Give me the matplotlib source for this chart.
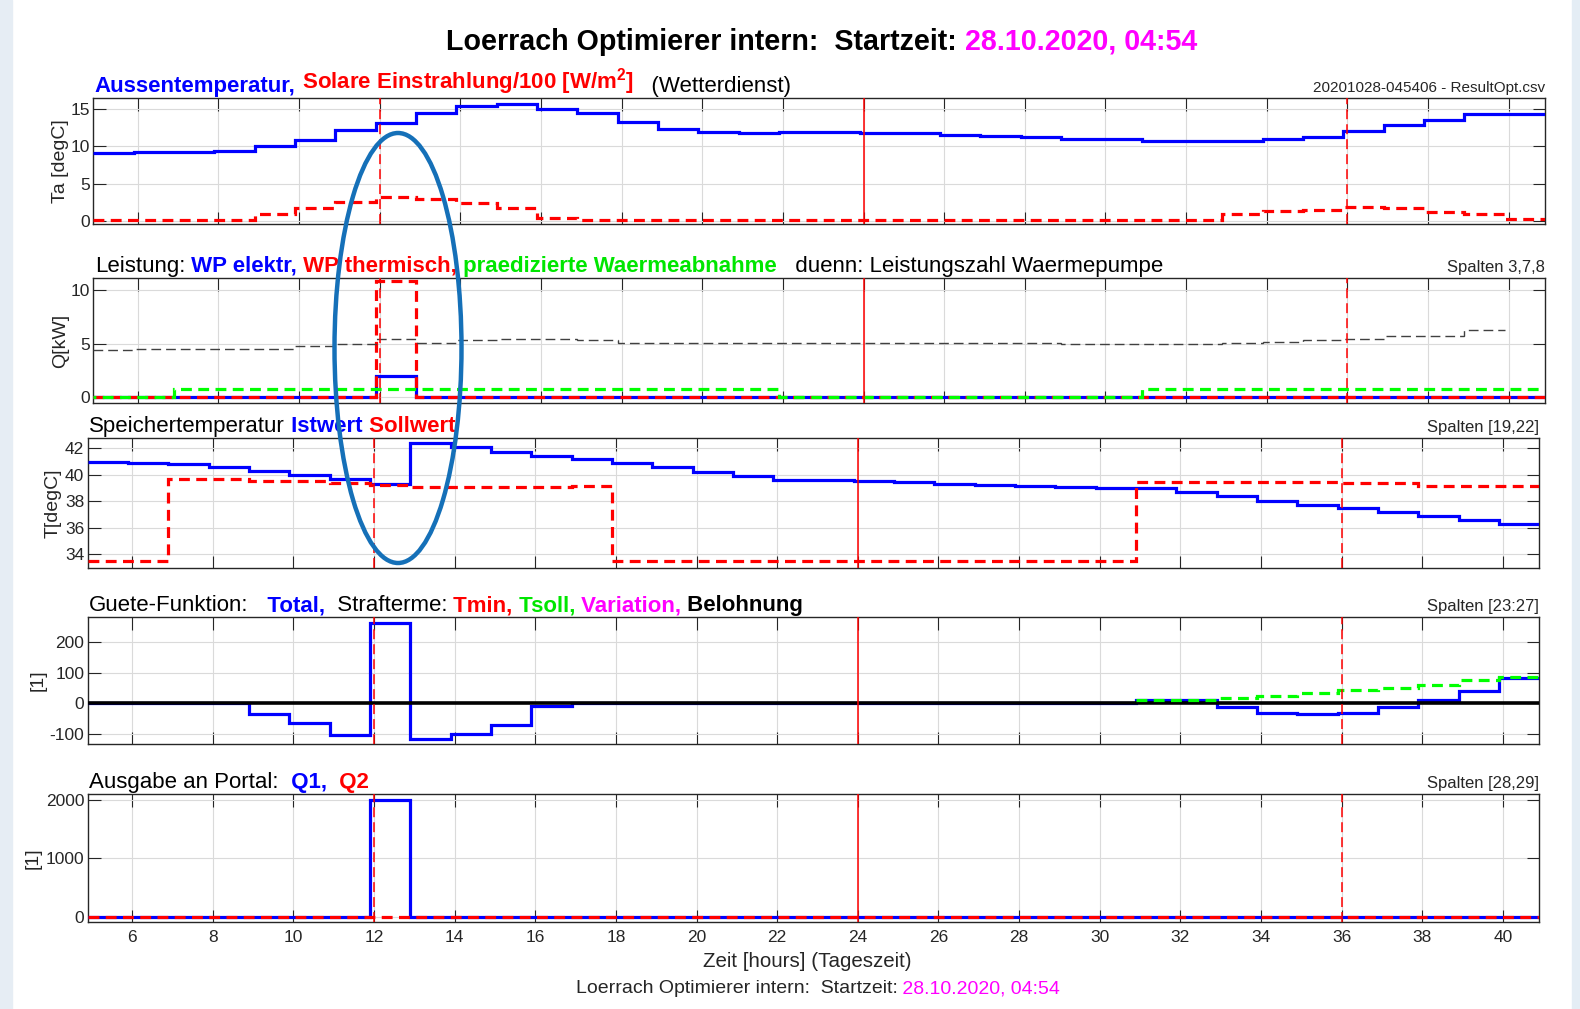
import matplotlib
matplotlib.use("Agg")
import matplotlib.pyplot as plt
from matplotlib.patches import Ellipse, Rectangle
from matplotlib.text import Annotation
from matplotlib.transforms import offset_copy

plt.rcParams["font.family"] = ["Liberation Sans", "DejaVu Sans"]
plt.rcParams["mathtext.fontset"] = "custom"
plt.rcParams["mathtext.rm"] = "Liberation Sans"
plt.rcParams["mathtext.it"] = "Liberation Sans:italic"
plt.rcParams["mathtext.bf"] = "Liberation Sans:bold"
plt.rcParams["axes.unicode_minus"] = False

# ---------------- data ----------------
hour_edges = [4.9, 5.9, 6.9, 7.9, 8.9, 9.9, 10.9, 11.9, 12.9, 13.9, 14.9, 15.9,
              16.9, 17.9, 18.9, 19.9, 20.9, 21.9, 22.9, 23.9, 24.9, 25.9, 26.9,
              27.9, 28.9, 29.9, 30.9, 31.9, 32.9, 33.9, 34.9, 35.9, 36.9, 37.9,
              38.9, 39.9, 40.9]
x_ticks = [6, 8, 10, 12, 14, 16, 18, 20, 22, 24, 26, 28, 30, 32, 34, 36, 38, 40]
noon_hours = [12, 36]
midnight_hours = [24]

aussentemperatur = [9.1, 9.2, 9.2, 9.4, 10.1, 10.9, 12.2, 13.2, 14.5, 15.4, 15.7, 15.1,
                    14.5, 13.3, 12.3, 11.95, 11.8, 11.95, 11.95, 11.8, 11.8, 11.6, 11.45, 11.3,
                    11.05, 10.95, 10.8, 10.8, 10.8, 11.05, 11.3, 12.1, 12.9, 13.6, 14.4, 14.4]
solar_100 = [0.1, 0.1, 0.1, 0.1, 0.85, 1.65, 2.5, 3.2, 2.9, 2.4, 1.65, 0.4,
             0.1, 0.1, 0.1, 0.1, 0.1, 0.1, 0.1, 0.1, 0.1, 0.1, 0.1, 0.1,
             0.1, 0.1, 0.1, 0.1, 0.85, 1.35, 1.45, 1.9, 1.75, 1.2, 0.85, 0.2]

wp_elektr = [0, 0, 0, 0, 0, 0, 0, 2.0, 0, 0, 0, 0,
             0, 0, 0, 0, 0, 0, 0, 0, 0, 0, 0, 0,
             0, 0, 0, 0, 0, 0, 0, 0, 0, 0, 0, 0]
wp_thermisch = [0, 0, 0, 0, 0, 0, 0, 10.8, 0, 0, 0, 0,
                0, 0, 0, 0, 0, 0, 0, 0, 0, 0, 0, 0,
                0, 0, 0, 0, 0, 0, 0, 0, 0, 0, 0, 0]
waermeabnahme = [0, 0, 0.8, 0.8, 0.8, 0.8, 0.8, 0.8, 0.8, 0.8, 0.8, 0.8,
                 0.8, 0.8, 0.8, 0.8, 0.8, 0, 0, 0, 0, 0, 0, 0,
                 0, 0, 0.8, 0.8, 0.8, 0.8, 0.8, 0.8, 0.8, 0.8, 0.8, 0.8]
leistungszahl = [4.4, 4.5, 4.5, 4.55, 4.55, 4.78, 5.0, 5.4, 5.1, 5.35, 5.47, 5.4,
                 5.35, 5.03, 5.03, 5.03, 5.03, 5.03, 5.03, 5.03, 5.03, 5.03, 5.03, 5.03,
                 4.97, 4.97, 4.97, 4.97, 5.03, 5.19, 5.34, 5.43, 5.75, 5.75, 6.27]

istwert = [41.0, 40.92, 40.85, 40.57, 40.3, 39.95, 39.65, 39.3, 42.4, 42.07, 41.75, 41.45,
           41.2, 40.87, 40.55, 40.2, 39.9, 39.6, 39.6, 39.5, 39.42, 39.3, 39.25, 39.16,
           39.1, 39.0, 38.97, 38.7, 38.4, 38.05, 37.76, 37.48, 37.18, 36.88, 36.6, 36.3]
sollwert = [33.5, 33.5, 39.7, 39.7, 39.55, 39.55, 39.4, 39.25, 39.05, 39.05, 39.05, 39.05,
            39.15, 33.5, 33.5, 33.5, 33.5, 33.5, 33.5, 33.5, 33.5, 33.5, 33.5, 33.5,
            33.5, 33.5, 39.45, 39.45, 39.45, 39.45, 39.45, 39.38, 39.38, 39.17, 39.17, 39.17]

guete_total = [0, 0, 0, 0, -35, -65, -103, 262, -118, -100, -70, -9,
               0, 0, 0, 0, 0, 0, 0, 0, 0, 0, 0, 0,
               0, 0, 9, 12, -13, -32, -35, -32, -13, 11, 41, 82]
strafe_tsoll_start = 30.9
strafe_tsoll = [9, 10, 17, 24, 33, 43, 50, 60, 74, 87]
belohnung = [0, 0, 0, 0, 0, 0, 0, 0, 0, 0, 0, 0,
             0, 0, 0, 0, 0, 0, 0, 0, 0, 0, 0, 0,
             0, 0, 0, 0, 0, 0, 0, 0, 0, 0, 0, 0]

portal_q1 = [0, 0, 0, 0, 0, 0, 0, 2000, 0, 0, 0, 0,
             0, 0, 0, 0, 0, 0, 0, 0, 0, 0, 0, 0,
             0, 0, 0, 0, 0, 0, 0, 0, 0, 0, 0, 0]
portal_q2 = [0, 0, 0, 0, 0, 0, 0, 0, 0, 0, 0, 0,
             0, 0, 0, 0, 0, 0, 0, 0, 0, 0, 0, 0,
             0, 0, 0, 0, 0, 0, 0, 0, 0, 0, 0, 0]

# ---------------- style ----------------
BLUE, RED, GREEN, MAG, BLK = "#0000FF", "#FF0000", "#00FF00", "#FF00FF", "#000000"
GREEN_TXT = "#00E600"
AXC = "#262626"
W, H = 1580, 1009
DASH = (0, (3.4, 2.0))
LW = 2.3

fig = plt.figure(figsize=(W / 100, H / 100), dpi=100)
fig.patch.set_facecolor("white")

# screenshot border strips
fig.add_artist(Rectangle((0, 0), 12 / W, 1, transform=fig.transFigure,
                         color="#e6edf4", zorder=-5))
fig.add_artist(Rectangle((1572 / W, 0), 8 / W, 1, transform=fig.transFigure,
                         color="#e4edf5", zorder=-5))


def add_axes_px(left, top, right, bottom):
    return fig.add_axes([left / W, 1 - bottom / H, (right - left) / W, (bottom - top) / H])


def style(ax, ylim, yticks, xlabels=False):
    ax.set_xlim(hour_edges[0], hour_edges[-1])
    ax.set_ylim(*ylim)
    ax.set_xticks(x_ticks)
    ax.set_yticks(yticks)
    ax.grid(True, color="#dadada", lw=0.8)
    ax.set_axisbelow(True)
    ax.tick_params(direction="in", length=9, width=0.8, color=AXC, labelcolor=AXC,
                   labelsize=12.5, top=True, right=True)
    ax.tick_params(axis="y", pad=2.5)
    ax.tick_params(axis="x", pad=5.5, labelbottom=xlabels)
    for s in ax.spines.values():
        s.set_color(AXC)
        s.set_linewidth(1.0)
    for h in noon_hours:
        ax.axvline(h, color=RED, lw=1.1, ls=(0, (6.5, 3.3)), zorder=6)
    for h in midnight_hours:
        ax.axvline(h, color=RED, lw=1.1, zorder=6)


def rich_text(ax, parts, size):
    tr = offset_copy(ax.transAxes, fig=fig, x=1.5, y=6, units="dots")
    s, c, w = parts[0]
    t = ax.text(0, 1, s, color=c, fontweight=w, fontsize=size, transform=tr,
                ha="left", va="baseline")
    for s, c, w in parts[1:]:
        t = ax.annotate(s, xy=(1, 0), xycoords=t, color=c, fontweight=w,
                        fontsize=size, ha="left", va="bottom")
    return t


def fig_rich_text(x, y, parts, size):
    s, c, w = parts[0]
    t = fig.text(x, y, s, color=c, fontweight=w, fontsize=size, ha="left", va="baseline")
    for s, c, w in parts[1:]:
        a = Annotation(s, xy=(1, 0), xycoords=t, color=c, fontweight=w,
                       fontsize=size, ha="left", va="bottom")
        fig.add_artist(a)
        t = a
    return t


def right_note(ax, s, size):
    tr = offset_copy(ax.transAxes, fig=fig, x=0, y=6, units="dots")
    ax.text(1, 1, s, ha="right", va="baseline", fontsize=size, color=AXC, transform=tr)


def ylabel(ax, s, xpx, axleft, axwidth):
    ax.set_ylabel(s, fontsize=14, color=AXC, va="center")
    ax.yaxis.set_label_coords((xpx - axleft) / axwidth, 0.5)


TSIZE = 16.0

# ---------- Panel 1 ----------
ax1 = add_axes_px(93.4, 98.3, 1545.0, 224.3)
ax1.stairs(aussentemperatur, hour_edges, baseline=None, color=BLUE, lw=LW, zorder=3)
ax1.stairs(solar_100, hour_edges, baseline=None, color=RED, lw=LW, ls=DASH, zorder=4)
style(ax1, (-0.5, 16.5), [0, 5, 10, 15])
ylabel(ax1, "Ta [degC]", 60.2, 93.4, 1451.6)
rich_text(ax1, [("Aussentemperatur,", BLUE, "bold"),
                (" Solare Einstrahlung/100 [W/m$^{\\mathbf{2}}$]", RED, "bold"),
                ("   (Wetterdienst)", BLK, "normal")], TSIZE)
right_note(ax1, "20201028-045406 - ResultOpt.csv", 11)

# ---------- Panel 2 ----------
ax2 = add_axes_px(93.4, 277.7, 1545.0, 403.3)
ax2.stairs(wp_elektr, hour_edges, baseline=None, color=BLUE, lw=LW, zorder=3)
ax2.stairs(wp_thermisch, hour_edges, baseline=None, color=RED, lw=LW, ls=DASH, zorder=4)
ax2.stairs(waermeabnahme, hour_edges, baseline=None, color=GREEN, lw=LW,
           ls=(2.5, (3.4, 2.0)), zorder=5)
ax2.stairs(leistungszahl, hour_edges[:len(leistungszahl) + 1], baseline=None,
           color="#404040", lw=1.0, ls=(0, (7, 3.6)), zorder=5)
style(ax2, (-0.55, 11.15), [0, 5, 10])
ylabel(ax2, "Q[kW]", 60.2, 93.4, 1451.6)
rich_text(ax2, [("Leistung:", BLK, "normal"), (" WP elektr,", BLUE, "bold"),
                (" WP thermisch,", RED, "bold"),
                (" praedizierte Waermeabnahme", GREEN_TXT, "bold"),
                ("   duenn: Leistungszahl Waermepumpe", BLK, "normal")], TSIZE)
right_note(ax2, "Spalten 3,7,8", 12)

# ---------- Panel 3 ----------
ax3 = add_axes_px(87.8, 438.3, 1539.2, 567.7)
ax3.stairs(istwert, hour_edges, baseline=None, color=BLUE, lw=LW, zorder=3)
ax3.stairs(sollwert, hour_edges, baseline=None, color=RED, lw=LW, ls=DASH, zorder=4)
style(ax3, (33.0, 42.75), [34, 36, 38, 40, 42])
ylabel(ax3, "T[degC]", 53.6, 87.8, 1451.4)
rich_text(ax3, [("Speichertemperatur", BLK, "normal"), (" Istwert", BLUE, "bold"),
                (" Sollwert", RED, "bold")], TSIZE)
right_note(ax3, "Spalten [19,22]", 12)

# ---------- Panel 4 ----------
ax4 = add_axes_px(87.8, 617.3, 1539.2, 744.0)
ax4.stairs(guete_total, hour_edges, baseline=None, color=BLUE, lw=LW, zorder=3)
ax4.stairs(belohnung, hour_edges, baseline=None, color=BLK, lw=2.6, zorder=3.5)
i0 = hour_edges.index(strafe_tsoll_start)
ax4.stairs(strafe_tsoll, hour_edges[i0:i0 + len(strafe_tsoll) + 1], baseline=None,
           color=GREEN, lw=LW, ls=DASH, zorder=4)
style(ax4, (-133, 280), [-100, 0, 100, 200])
ylabel(ax4, "[1]", 38.3, 87.8, 1451.4)
rich_text(ax4, [("Guete-Funktion:", BLK, "normal"), ("   Total,", BLUE, "bold"),
                ("  Strafterme:", BLK, "normal"), (" Tmin,", RED, "bold"),
                (" Tsoll,", GREEN_TXT, "bold"), (" Variation,", MAG, "bold"),
                (" Belohnung", BLK, "bold")], TSIZE)
right_note(ax4, "Spalten [23:27]", 12)

# ---------- Panel 5 ----------
ax5 = add_axes_px(87.8, 794.3, 1539.2, 922.3)
ax5.stairs(portal_q1, hour_edges, baseline=None, color=BLUE, lw=LW, zorder=3)
ax5.stairs(portal_q2, hour_edges, baseline=None, color=RED, lw=LW, ls=DASH, zorder=4)
style(ax5, (-96, 2098), [0, 1000, 2000], xlabels=True)
ylabel(ax5, "[1]", 33.2, 87.8, 1451.4)
rich_text(ax5, [("Ausgabe an Portal:", BLK, "normal"), ("  Q1,", BLUE, "bold"),
                ("  Q2", RED, "bold")], TSIZE)
right_note(ax5, "Spalten [28,29]", 12)
ax5.set_xlabel("Zeit [hours] (Tageszeit)", fontsize=14.8, color=AXC)
ax5.xaxis.set_label_coords((806.8 - 87.8) / 1451.4, -(952 - 922.3) / 128.0)

# ---------- figure texts ----------
fig_rich_text(446 / W, 1 - 50 / H,
              [("Loerrach Optimierer intern:  Startzeit:", BLK, "bold"),
               (" 28.10.2020, 04:54", MAG, "bold")], 20.6)
fig_rich_text(575.5 / W, 1 - 993 / H,
              [("Loerrach Optimierer intern:  Startzeit:", AXC, "normal"),
               (" 28.10.2020, 04:54", MAG, "normal")], 14.0)

# highlight ellipse
fig.add_artist(Ellipse((398 / W, 1 - 348 / H), 127 / W, 430 / H,
                       transform=fig.transFigure, fill=False,
                       ec="#1570B8", lw=3.2, zorder=20))

fig.savefig("out.png", dpi=100, facecolor="white")
